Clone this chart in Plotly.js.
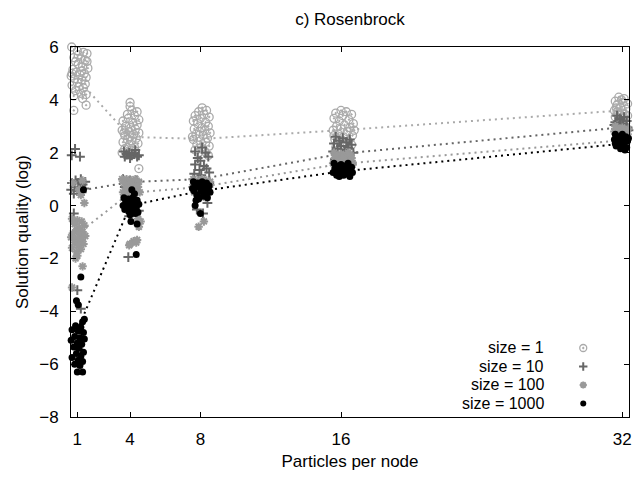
<!DOCTYPE html>
<html>
<head>
<meta charset="utf-8">
<script src="https://cdn.plot.ly/plotly-3.0.1.min.js"></script>
<style>html,body{margin:0;padding:0;background:#fff;}#chart{width:639px;height:477px;}</style>
</head>
<body>
<div id="chart"></div>
<script>
// Category positions on the x axis (particles per node)
const particles = [1, 4, 8, 16, 32];
const xTickLabels = ['1', '4', '8', '16', '32'];
const yTicks = [-8, -6, -4, -2, 0, 2, 4, 6];
const seriesNames = ['size = 1', 'size = 10', 'size = 100', 'size = 1000'];

// Connecting (average) values per series at each particle count
const size1Line = [4.8, 2.6, 2.52, 2.85, 3.6];
const size10Line = [0.55, 0.89, 1.0, 1.96, 2.96];
const size100Line = [-1.08, 0.48, 0.7, 1.58, 2.47];
const size1000Line = [-4.72, 0.0, 0.55, 1.29, 2.34];

// Individual runs (jittered x, log solution quality)
const size1X = [
  0.68,1.35,1.55,1.0,0.8,1.2,1.45,0.6,1.05,1.3,1.6,0.75,0.95,1.4,1.15,0.65,1.5,0.85,1.25,1.0,1.45,0.7,1.1,1.35,0.9,0.6,1.2,1.5,0.8,1.05,0.9,1.25,0.6,0.8,1.5,1.3,0.7,1.55,
  4.0,4.0,4.1,4.4,3.85,4.25,3.9,4.5,3.6,4.15,4.4,3.75,4.05,4.3,3.55,3.95,4.5,4.2,3.7,4.0,4.35,3.85,4.1,3.6,4.45,3.95,4.25,3.7,4.05,3.55,3.8,4.5,4.3,3.65,
  8.1,8.35,7.9,8.2,7.7,8.5,8.0,7.6,8.3,7.85,8.45,8.1,7.65,8.25,7.95,8.55,7.75,8.15,8.4,7.6,8.0,8.3,7.8,8.5,8.05,7.7,8.25,7.9,8.45,7.55,
  16.0,16.3,15.7,16.6,16.1,15.6,16.45,15.9,16.7,16.2,15.75,16.5,16.0,15.55,16.35,15.85,16.65,16.15,15.65,16.4,15.95,16.6,16.25,15.7,16.05,16.5,15.8,16.3,15.6,16.75,
  31.8,32.1,32.4,31.6,32.0,32.3,31.7,32.5,31.9,32.2,31.55,32.4,32.0,31.75,32.3,31.6,32.1,32.5,31.85,32.2,31.7,32.45,31.95,32.15,31.65
];
const size1Y = [
  6.0,5.8,5.75,5.85,5.6,5.55,5.5,5.4,5.35,5.25,5.2,5.15,5.05,5.0,4.95,4.9,4.85,4.8,4.75,4.65,4.6,4.55,4.5,4.45,4.35,4.3,4.25,4.2,4.15,5.7,5.45,5.1,3.5,3.6,3.8,4.05,5.0,5.45,
  3.9,3.75,3.6,3.55,3.45,3.4,3.3,3.25,3.2,3.15,3.05,3.0,2.95,2.9,2.85,2.8,2.75,2.7,2.65,2.6,2.55,2.5,2.45,2.4,2.35,2.3,2.2,2.15,2.1,2.0,1.9,1.4,2.05,2.75,
  3.7,3.6,3.55,3.45,3.4,3.35,3.3,3.2,3.15,3.1,3.0,2.95,2.9,2.85,2.8,2.75,2.7,2.65,2.55,2.5,2.45,2.4,2.3,2.25,2.2,2.1,2.05,2.0,1.9,2.6,
  3.6,3.55,3.5,3.45,3.4,3.3,3.25,3.2,3.1,3.05,3.0,2.95,2.9,2.85,2.8,2.7,2.65,2.6,2.5,2.45,2.4,2.3,2.25,2.2,2.1,2.05,2.0,1.95,2.65,2.85,
  4.1,4.05,4.0,3.95,3.9,3.85,3.8,3.75,3.7,3.65,3.6,3.55,3.5,3.45,3.4,3.35,3.3,3.25,3.2,3.15,3.55,3.9,4.0,3.45,3.7
];

const size10X = [
  0.6,0.9,1.2,1.45,0.7,1.05,1.3,0.55,0.85,1.15,1.4,0.65,1.0,1.25,0.8,0.87,0.68,1.15,0.8,1.0,1.2,
  3.65,3.8,3.95,4.1,4.25,4.4,3.7,4.0,4.3,4.5,3.6,3.8,4.0,4.2,4.4,3.7,4.1,4.35,3.9,3.9,3.95,4.5,
  8.1,8.3,7.85,8.0,8.45,7.7,8.2,8.35,7.95,8.5,7.65,8.05,7.6,7.9,8.25,8.5,7.75,8.1,7.8,8.15,8.4,7.7,
  15.7,16.1,16.5,15.9,16.3,15.6,16.6,16.0,16.4,15.8,16.2,15.55,16.7,16.05,15.75,16.45,16.25,15.65,16.55,15.95,16.35,15.85,16.15,16.6,15.7,
  31.7,32.1,32.4,31.9,32.25,31.6,32.0,32.5,31.8,32.2,31.65,32.35,31.95,32.1,31.75,32.45,32.05,31.85,32.3,31.55
];
const size10Y = [
  1.0,0.95,1.0,0.9,0.85,0.85,0.8,0.75,0.7,0.7,0.65,0.6,0.55,0.5,0.45,2.14,1.9,1.85,-0.3,-3.2,-3.9,
  2.05,1.95,2.0,1.9,1.95,1.85,1.85,1.8,2.1,1.9,1.0,0.9,0.95,0.85,0.95,0.7,0.65,0.6,0.5,-1.95,-0.4,-0.2,
  2.2,2.0,1.8,1.7,1.85,1.55,1.5,1.4,1.35,1.25,1.2,1.15,1.0,0.95,0.9,0.85,0.8,0.75,-0.15,-0.3,0.1,2.05,
  2.6,2.55,2.5,2.45,2.4,2.35,2.3,2.25,2.2,2.15,2.1,2.05,2.0,1.95,1.9,1.85,1.8,1.75,1.7,1.65,1.6,1.5,1.45,1.55,1.95,
  3.4,3.35,3.3,3.25,3.2,3.15,3.1,3.05,3.0,2.95,2.9,2.85,2.8,2.75,2.7,3.15,3.0,3.3,2.95,3.05
];

const size100X = [
  0.7,1.0,1.25,0.85,1.4,0.6,1.1,0.95,1.3,0.75,1.15,1.45,0.65,1.0,1.25,0.85,1.35,1.05,0.7,1.2,0.95,1.0,0.9,1.3,0.7,1.4,1.2,0.75,1.1,1.3,
  3.55,3.8,4.05,4.3,4.5,3.65,3.95,4.2,4.45,3.75,4.1,4.35,3.6,3.9,4.25,4.55,4.45,4.6,4.5,4.4,4.2,4.0,3.95,4.35,
  7.6,7.85,8.1,8.35,8.55,7.7,8.0,8.25,8.5,7.8,8.15,8.4,7.65,7.95,8.2,7.9,8.3,7.55,
  15.6,16.0,16.4,15.8,16.2,16.6,15.65,16.05,16.45,15.85,16.25,15.55,16.65,15.95,16.35,15.7,16.15,16.5,15.9,16.3,15.75,16.55,
  31.6,32.0,32.4,31.8,32.2,31.55,32.5,31.95,32.3,31.7,32.1,31.85,32.45,32.0,31.65,32.25,31.9,32.35
];
const size100Y = [
  -0.5,-0.55,-0.6,-0.7,-0.75,-0.8,-0.85,-0.95,-1.0,-1.05,-1.1,-1.15,-1.2,-1.25,-1.3,-1.4,-1.45,-1.5,-1.6,-1.65,-1.75,-1.9,-2.0,-2.3,-3.1,0.1,0.4,0.85,0.6,0.95,
  1.0,1.0,0.95,1.0,0.9,0.85,0.8,0.75,0.7,0.65,0.6,0.55,0.5,0.45,0.4,0.5,-0.5,-0.6,-0.8,-1.3,-1.35,-1.45,-1.5,-1.4,
  1.0,0.95,1.0,0.95,0.9,0.85,0.8,0.75,0.7,0.65,0.6,0.55,0.5,0.45,-0.6,-0.8,0.3,0.7,
  2.0,1.95,2.0,1.9,1.85,1.8,1.8,1.75,1.7,1.65,1.6,1.6,1.55,1.5,1.45,1.45,1.4,1.35,1.3,1.55,1.7,1.9,
  3.0,2.95,2.95,2.9,2.85,2.8,2.8,2.75,2.7,2.65,2.6,2.55,2.55,2.5,2.45,2.4,2.65,2.9
];

const size1000X = [
  0.6,0.9,1.2,0.7,1.05,1.35,0.55,0.85,1.15,1.4,0.65,1.0,1.25,0.8,1.1,0.6,1.35,0.95,1.2,0.7,1.05,1.3,0.85,1.15,0.55,1.0,1.3,0.6,1.2,0.95,1.05,1.4,1.3,1.35,
  3.65,3.9,4.15,4.4,3.75,4.0,4.25,4.5,3.6,3.85,4.1,4.35,3.7,3.95,4.2,4.45,4.0,4.1,4.25,4.05,4.4,4.35,3.8,4.3,
  7.6,7.85,8.1,8.35,8.5,7.7,7.95,8.2,8.45,7.65,8.05,8.3,7.8,8.15,7.9,8.4,7.75,7.7,8.0,8.25,7.55,8.55,
  15.6,16.0,16.4,15.8,16.2,16.6,15.65,16.05,16.45,15.85,16.25,15.55,16.65,15.95,16.35,15.75,16.15,16.5,15.9,16.3,15.7,16.1,
  31.6,32.0,32.4,31.8,32.2,31.55,32.5,31.95,32.3,31.7,32.1,31.85,32.45,32.0,31.65,32.25,31.9,32.15,32.35,31.75,32.05,31.6
];
const size1000Y = [
  -4.5,-4.55,-4.6,-4.7,-4.75,-4.8,-4.9,-4.95,-5.0,-5.05,-5.1,-5.2,-5.25,-5.35,-5.4,-5.5,-5.55,-5.6,-5.7,-5.75,-5.85,-5.9,-6.0,-6.05,-6.15,-6.3,-6.3,-6.6,-2.7,-3.6,-3.75,-4.3,-4.4,0.6,
  0.3,0.25,0.3,0.2,0.15,0.1,0.1,0.05,0.0,-0.05,0.0,-0.05,-0.15,-0.2,-0.15,-0.25,-0.35,0.6,0.45,-0.6,-0.7,-1.85,0.2,-0.3,
  0.9,0.85,0.9,0.85,0.75,0.75,0.7,0.65,0.6,0.55,0.55,0.45,0.4,0.35,0.25,0.3,0.2,0.0,-0.3,0.8,0.65,0.5,
  1.6,1.55,1.6,1.5,1.5,1.45,1.4,1.4,1.35,1.3,1.3,1.25,1.25,1.2,1.2,1.15,1.15,1.1,1.1,1.45,1.3,1.25,
  2.7,2.7,2.65,2.6,2.6,2.5,2.5,2.5,2.45,2.4,2.4,2.35,2.3,2.3,2.25,2.2,2.15,2.1,2.55,2.55,2.2,2.35
];

// Styles
const colors = ['#aaaaaa', '#666666', '#999999', '#000000'];
const symbols = ['circle-open-dot', 'cross-thin-open', 'asterisk-open', 'circle'];
const symSizes = [8, 7, 7, 7];
const symLine = [1.3, 2, 2, 0];

const lineYs = [size1Line, size10Line, size100Line, size1000Line];
const ptsX = [size1X, size10X, size100X, size1000X];
const ptsY = [size1Y, size10Y, size100Y, size1000Y];

const traces = [];
for (let i = 0; i < 4; i++) {
  traces.push({
    x: particles, y: lineYs[i], type: 'scatter', mode: 'lines',
    line: {color: colors[i], width: 2, dash: '2px,4px'},
    hoverinfo: 'skip', showlegend: false
  });
}
for (let i = 0; i < 4; i++) {
  traces.push({
    x: ptsX[i], y: ptsY[i], type: 'scatter', mode: 'markers', name: seriesNames[i],
    cliponaxis: false,
    marker: {symbol: symbols[i], size: symSizes[i], color: colors[i],
             line: {color: colors[i], width: symLine[i]}},
    showlegend: false
  });
}

// Gnuplot-style key: text right-aligned, symbol to the right
const keyRowsY = [0.1865, 0.1365, 0.0865, 0.0365];
const keySymX = 0.918;
const keyTextX = 0.85;
const fontFam = 'Liberation Sans, Arial, sans-serif';
const fs = 17;
const keyFs = 16;
for (let i = 0; i < 4; i++) {
  traces.push({
    x: [keySymX], y: [keyRowsY[i]], xaxis: 'x2', yaxis: 'y2', type: 'scatter', mode: 'markers',
    marker: {symbol: symbols[i], size: symSizes[i] - 1, color: colors[i],
             line: {color: colors[i], width: symLine[i]}},
    hoverinfo: 'skip', showlegend: false, cliponaxis: false
  });
}
const annotations = seriesNames.map((n, i) => ({
  text: n, xref: 'paper', yref: 'paper', x: keyTextX, y: keyRowsY[i],
  xanchor: 'right', yanchor: 'middle', showarrow: false, borderpad: 0,
  font: {family: fontFam, size: keyFs, color: '#000'}
}));

const axisCommon = {
  showline: true, linecolor: '#000', linewidth: 1, mirror: 'allticks',
  ticks: 'inside', ticklen: 5, tickwidth: 1, tickcolor: '#000',
  showgrid: false, zeroline: false,
  tickfont: {family: fontFam, size: fs, color: '#000'}
};

const layout = {
  width: 639, height: 477,
  margin: {l: 71, r: 10, t: 47, b: 60},
  paper_bgcolor: '#fff', plot_bgcolor: '#fff',
  showlegend: false,
  title: {text: 'c) Rosenbrock', font: {family: fontFam, size: fs, color: '#000'},
          xref: 'paper', x: 0.5, xanchor: 'center', yref: 'container', y: 0.96, yanchor: 'middle'},
  xaxis: Object.assign({}, axisCommon, {
    range: [0.64, 32.38], tickvals: particles, ticktext: xTickLabels, ticklabelstandoff: 7,
    title: {text: 'Particles per node', font: {family: fontFam, size: fs, color: '#000'}, standoff: 6}
  }),
  yaxis: Object.assign({}, axisCommon, {
    range: [-8, 6], tickvals: yTicks, ticklabelstandoff: 8,
    title: {text: 'Solution quality (log)', font: {family: fontFam, size: fs, color: '#000'}, standoff: 6}
  }),
  xaxis2: {overlaying: 'x', anchor: 'y2', range: [0, 1], visible: false, fixedrange: true},
  yaxis2: {overlaying: 'y', anchor: 'x2', range: [0, 1], visible: false, fixedrange: true},
  annotations: annotations
};

Plotly.newPlot('chart', traces, layout, {staticPlot: true, displayModeBar: false});
</script>
</body>
</html>
